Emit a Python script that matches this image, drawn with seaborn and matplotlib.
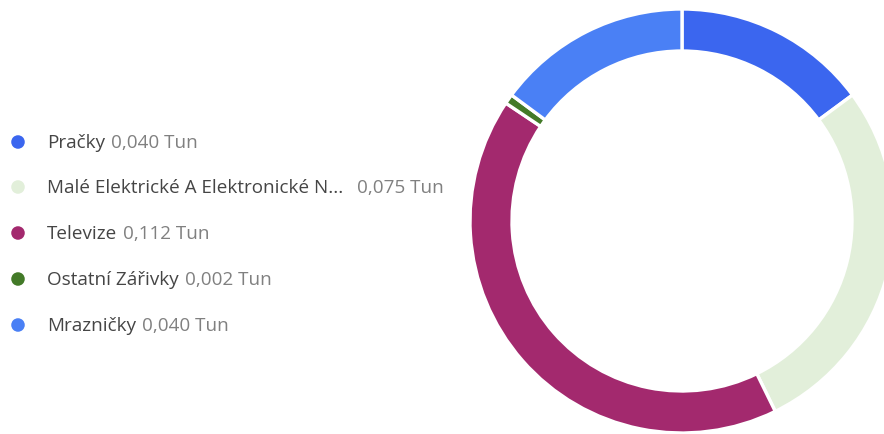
import matplotlib
matplotlib.use("Agg")
import matplotlib.pyplot as plt
import matplotlib.transforms as mtransforms
import seaborn as sns

categories = ["Pračky", "Malé Elektrické A Elektronické N...", "Televize", "Ostatní Zářivky", "Mrazničky"]
values = [0.040, 0.075, 0.112, 0.002, 0.040]
value_labels = ["0,040 Tun", "0,075 Tun", "0,112 Tun", "0,002 Tun", "0,040 Tun"]
colors = ["#3B66EF", "#E2EFDA", "#A3296E", "#437A28", "#4A80F5"]

sns.set_theme(style="white")
plt.rcParams['font.family'] = ['Open Sans', 'DejaVu Sans']

W, H = 884, 435
fig = plt.figure(figsize=(W / 100, H / 100), dpi=100)
fig.patch.set_facecolor("white")

# donut
cx, cy, R = 682, 222, 212
ax = fig.add_axes([(cx - R) / W, (H - cy - R) / H, 2 * R / W, 2 * R / H])
ax.pie(values, colors=colors, startangle=90, counterclock=False, radius=1.0,
       wedgeprops=dict(width=42 / R, edgecolor="white", linewidth=2.4))
ax.set_xlim(-1, 1)
ax.set_ylim(-1, 1)
ax.set_aspect("equal")
ax.axis("off")

# legend
lax = fig.add_axes([0, 0, 1, 1])
ys = [143, 188, 234, 280, 326]
sns.scatterplot(x=[18] * len(ys), y=ys, hue=categories, palette=colors, s=95,
                edgecolor="none", legend=False, ax=lax)
lax.set_xlim(0, W)
lax.set_ylim(H, 0)
lax.axis("off")

fs = 13.6
fig.canvas.draw()
renderer = fig.canvas.get_renderer()
for name, val, y in zip(categories, value_labels, ys):
    t = lax.text(47, y + 0.5, name, fontsize=fs, color="#454545", va="center", ha="left")
    bb = t.get_window_extent(renderer=renderer)
    gap = 14 if name.endswith("...") else 6
    lax.text(bb.x1 + gap, y + 0.5, val, fontsize=fs, color="#808080", va="center", ha="left",
             transform=mtransforms.blended_transform_factory(
                 mtransforms.IdentityTransform(), lax.transData))

fig.savefig("out.png", dpi=100, facecolor="white")
